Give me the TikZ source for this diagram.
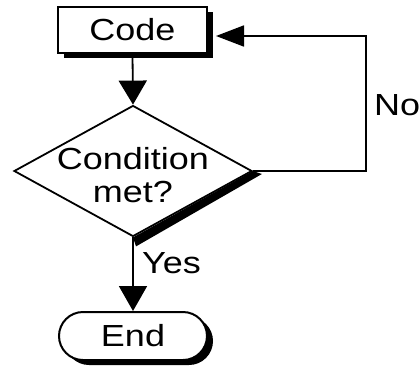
\documentclass[tikz,border=0pt]{standalone}
\usepackage{fontspec}
\setmainfont{Liberation Sans}[FakeStretch=1.18]
\usetikzlibrary{shapes.geometric,shapes.misc,arrows.meta,shadows,calc}
\begin{document}
\begin{tikzpicture}[x=1pt,y=-1pt,
  box/.style={draw=black,line width=2pt,fill=white,inner sep=0pt,
    drop shadow={shadow xshift=6pt,shadow yshift=-5pt,fill=black,opacity=1}},
  conn/.style={line width=1.8pt},
  txt/.style={font=\fontsize{30.5}{33}\selectfont}]
\useasboundingbox (0,0) rectangle (419,369);
% nodes
\node[box, minimum width=149pt, minimum height=46pt, txt] (code) at (132.5,30) {Code};
\node[draw, diamond, line width=1.8pt, fill=white, minimum width=238pt,
      minimum height=131pt, inner sep=0pt, aspect=1.82] (cond) at (133,171) {};
\fill (cond.east) -- ++(9,3) -- ($(cond.south)+(3,9)$) -- (cond.south) -- cycle;
\node[txt, align=center] (condtext) at (133,175) {Condition\\met?};
\node[box, rounded rectangle, minimum width=148pt, minimum height=48pt, txt] (end) at (133,336) {End};
% labels
\node[txt, anchor=west, inner sep=0pt] (yes) at (142,263) {Yes};
\node[txt, anchor=west, inner sep=0pt] (no) at (374,105) {No};
% connectors
\coordinate (c1) at (366,171);
\coordinate (c2) at (366,36);
\coordinate (ret) at (216,36);
\draw[conn,-{Triangle[length=24pt,width=28pt]}] (code.south) -- (cond.north);
\draw[conn,-{Triangle[length=25pt,width=28pt]}] (cond.south) -- (end.north);
\draw[conn,-{Triangle[length=28pt,width=21pt]}] (cond.east) -- (c1) -- (c2) -- (ret);
\end{tikzpicture}
\end{document}
